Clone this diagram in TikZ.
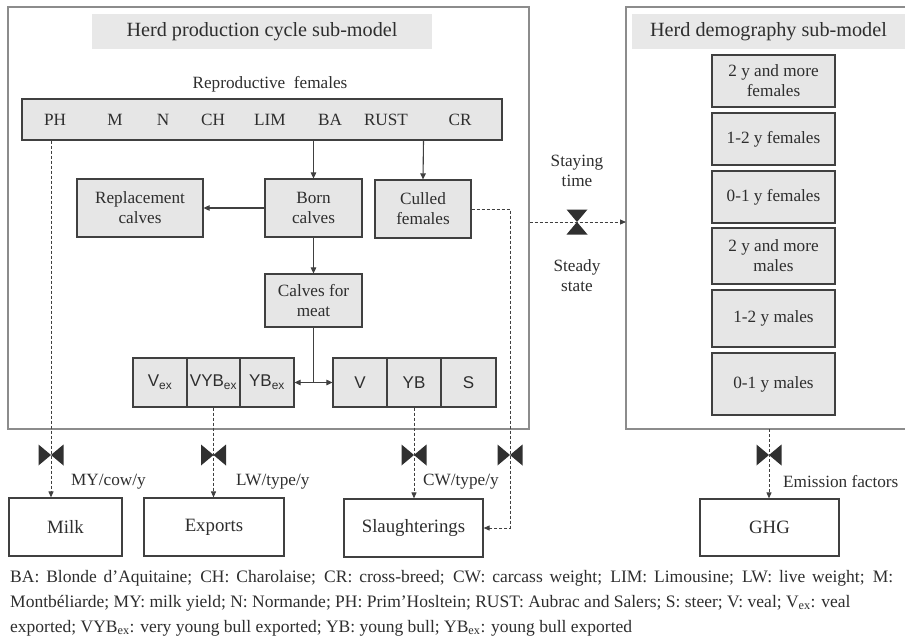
\documentclass[tikz,border=0pt]{standalone}
\usepackage{fontspec}
\setmainfont{Liberation Serif}
\newfontfamily\arialf{Liberation Sans}
\usetikzlibrary{arrows.meta}
\definecolor{ink}{HTML}{2E2E2E}
\definecolor{boxline}{HTML}{404040}
\definecolor{outerline}{HTML}{8C8C8C}
\definecolor{boxfill}{HTML}{E6E6E6}
\definecolor{titlefill}{HTML}{E8E8E8}
\definecolor{valvecol}{HTML}{303030}
\newcommand\fsT{\fontsize{20.2}{23}\selectfont}
\newcommand\fsB{\fontsize{17.2}{20}\selectfont}
\newcommand\fsW{\fontsize{18.8}{22}\selectfont}
\newcommand\fsS{\fontsize{17}{20}\selectfont\arialf}
\newcommand\fsF{\fontsize{17.5}{25}\selectfont}
\begin{document}
\begin{tikzpicture}[x=1pt,y=-1pt,
  outerbox/.style={draw=outerline, line width=1.1pt, inner sep=0pt},
  titlebox/.style={fill=titlefill, text=ink, font=\fsT, inner sep=0pt},
  gbox/.style={draw=boxline, line width=1.2pt, fill=boxfill, text=ink, align=center, font=\fsB, inner sep=0pt},
  sbox/.style={gbox, font=\fsS},
  wbox/.style={draw=boxline, line width=1.2pt, fill=white, text=ink, font=\fsW, inner sep=0pt},
  lab/.style={text=ink, font=\fsB, inner sep=0pt, align=center},
  arr/.style={draw=boxline, line width=1.1pt, -{Triangle[length=6pt,width=5.5pt]}},
  darr/.style={draw=boxline, line width=0.9pt, dash pattern=on 3pt off 2pt, -{Triangle[length=6pt,width=5pt]}},
  hvalve/.pic={\fill[valvecol] (-12.5,-10.5) -- (12.5,10.5) -- (12.5,-10.5) -- (-12.5,10.5) -- cycle;},
  vvalve/.pic={\fill[valvecol] (-10.5,-12.5) -- (10.5,12.5) -- (-10.5,12.5) -- (10.5,-12.5) -- cycle;}
]
\useasboundingbox[fill=white] (0,0) rectangle (905,637);

% outer frames
\node[outerbox, minimum width=521, minimum height=422] (prod) at (268.5,218) {};
\coordinate (demoNW) at (626,7);
\coordinate (demoSW) at (626,429);
\draw[outerline, line width=1.1pt] (905,7) -- (demoNW) -- (demoSW) -- (905,429);

% titles
\node[titlebox, minimum width=340, minimum height=35] (ttl1) at (262,31.5) {Herd production cycle sub-model};
\node[titlebox, minimum width=273, minimum height=35] (ttl2) at (768.5,31.5) {Herd demography sub-model};

% reproductive females
\node[lab] (repro) at (270,84) {Reproductive\ \ females};
\node[gbox, minimum width=480, minimum height=41] (bar) at (262,119.5) {};
\node[lab] (ph) at (55,120) {PH};
\node[lab] (m) at (115,120) {M};
\node[lab] (n) at (163,120) {N};
\node[lab] (ch) at (213,120) {CH};
\node[lab] (lim) at (270,120) {LIM};
\node[lab] (ba) at (330,120) {BA};
\node[lab] (rust) at (386,120) {RUST};
\node[lab] (cr) at (460,120) {CR};

% calves
\node[gbox, minimum width=97, minimum height=58] (born) at (313.5,208) {Born\\calves};
\node[gbox, minimum width=126, minimum height=58] (repl) at (140,208) {Replacement\\calves};
\node[gbox, minimum width=96, minimum height=58] (culled) at (423,209) {Culled\\females};
\node[gbox, minimum width=97, minimum height=53] (meat) at (313.5,300.5) {Calves\ for\\meat};

% categories
\node[sbox, minimum width=54, minimum height=49] (vex) at (160,382.5) {V\textsubscript{ex}};
\node[sbox, minimum width=53, minimum height=49] (vybex) at (213.5,382.5) {VYB\textsubscript{ex}};
\node[sbox, minimum width=54, minimum height=49] (ybex) at (267,382.5) {YB\textsubscript{ex}};
\node[sbox, minimum width=54, minimum height=49] (v) at (360,382.5) {V};
\node[sbox, minimum width=54, minimum height=49] (yb) at (414,382.5) {YB};
\node[sbox, minimum width=55, minimum height=49] (s) at (468.5,382.5) {S};

% flow arrows inside
\coordinate (bornx) at (313.5,0);
\coordinate (cullx) at (423.5,0);
\draw[arr] (bar.south -| bornx) -- (born.north);
\draw[arr] (bar.south -| cullx) -- (culled.north);
\draw[arr] (born.west) -- (repl.east);
\draw[arr] (born.south) -- (meat.north);
\coordinate (split) at (313.5,382.5);
\draw[boxline, line width=1.1pt] (meat.south) -- (split);
\draw[arr] (split) -- (ybex.east);
\draw[arr] (split) -- (v.west);

% demography boxes
\node[gbox, minimum width=123, minimum height=52] (d1) at (773.5,81) {2 y and more\\females};
\node[gbox, minimum width=123, minimum height=52] (d2) at (773.5,139) {1-2 y females};
\node[gbox, minimum width=123, minimum height=52] (d3) at (773.5,197) {0-1 y females};
\node[gbox, minimum width=123, minimum height=56] (d4) at (773.5,256) {2 y and more\\males};
\node[gbox, minimum width=123, minimum height=57] (d5) at (773.5,318.5) {1-2 y males};
\node[gbox, minimum width=123, minimum height=62] (d6) at (773.5,384) {0-1 y males};

% transfer between sub-models
\coordinate (demoW) at (626,222);
\pic at (577,222) {vvalve};
\draw[darr] (prod.east |- demoW) -- (demoW);
\node[lab] (stay) at (577,171) {Staying\\time};
\node[lab] (steady) at (577,276) {Steady\\state};

% output boxes
\node[wbox, minimum width=113, minimum height=58] (milk) at (65.5,527) {Milk};
\node[wbox, minimum width=140, minimum height=58] (exports) at (214,527) {Exports};
\node[wbox, minimum width=139, minimum height=58] (slaughter) at (413.5,528) {Slaughterings};
\node[wbox, minimum width=139, minimum height=57] (ghg) at (769.5,527.5) {GHG};

% valves
\pic at (51,455) {hvalve};
\pic at (213.5,455) {hvalve};
\pic at (414,455) {hvalve};
\pic at (510,455) {hvalve};
\pic at (769,455) {hvalve};

% output flows
\coordinate (phx) at (51,0);
\coordinate (ghgx) at (769,0);
\coordinate (cullroute) at (510,300);
\draw[darr] (bar.south -| phx) -- (milk.north -| phx);
\draw[darr] (vybex.south) -- (exports.north -| vybex.south);
\draw[darr] (yb.south) -- (slaughter.north -| yb.south);
\draw[darr] (culled.east) -| (cullroute) |- (slaughter.east);
\draw[darr] (demoSW -| ghgx) -- (ghg.north -| ghgx);

\node[lab, anchor=west] (mylab) at (71,482) {MY/cow/y};
\node[lab, anchor=west] (lwlab) at (236,482) {LW/type/y};
\node[lab, anchor=west] (cwlab) at (423,482) {CW/type/y};
\node[lab, anchor=west] (eflab) at (783,482) {Emission factors};

% footnote
\node[anchor=north west, align=left, font=\fsF, text=ink, inner sep=0pt] (foot) at (10,570)
 {\makebox[883pt][s]{BA: Blonde d’Aquitaine; CH: Charolaise; CR: cross-breed; CW: carcass weight; LIM: Limousine; LW: live weight; M:}\\
  Montbéliarde; MY: milk yield; N: Normande; PH: Prim’Hosltein; RUST: Aubrac and Salers; S: steer; V: veal; V\textsubscript{ex}: veal\\
  exported; VYB\textsubscript{ex}: very young bull exported; YB: young bull; YB\textsubscript{ex}: young bull exported};
\end{tikzpicture}
\end{document}
